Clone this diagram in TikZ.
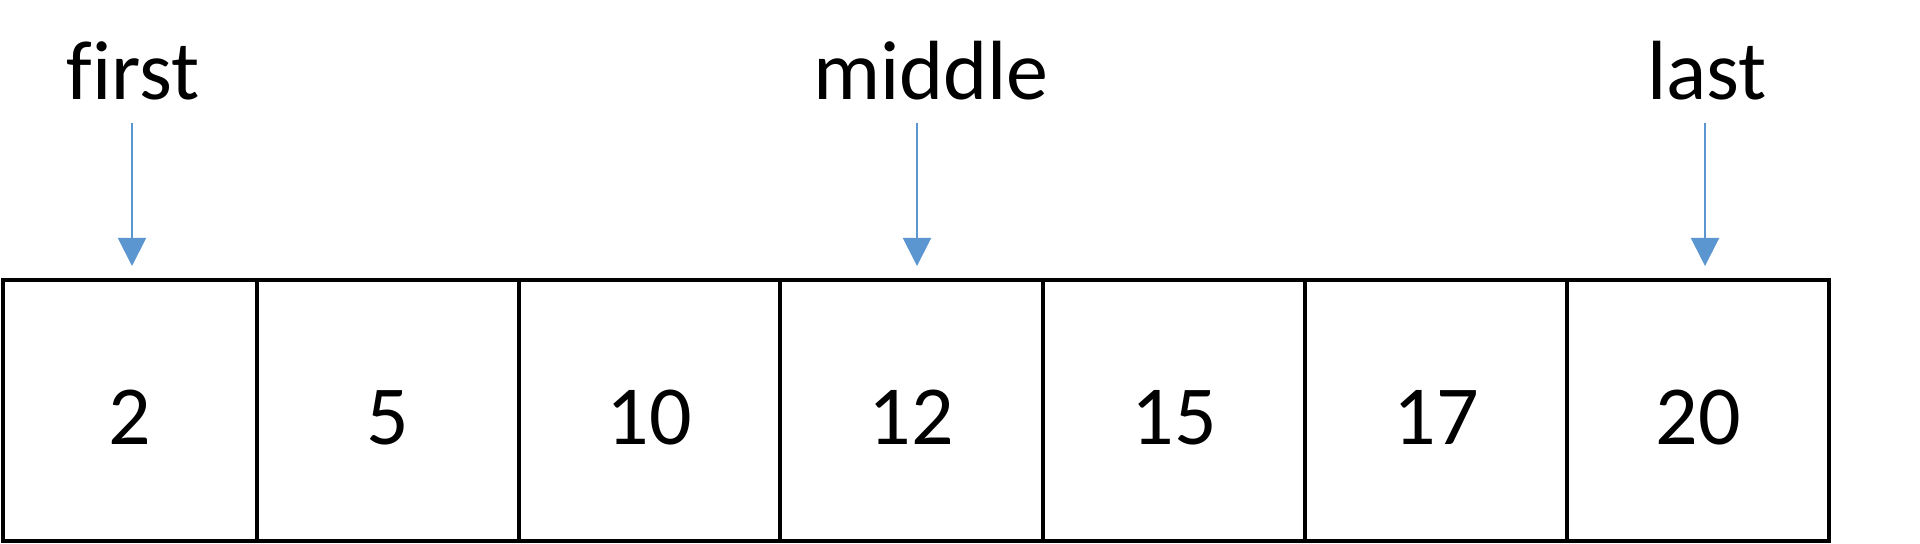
\documentclass[tikz,border=0pt]{standalone}
\usepackage{fontspec}
\setmainfont{Carlito}[Ligatures=NoCommon]
\usetikzlibrary{arrows.meta}
\definecolor{ptrblue}{RGB}{92,150,208}
\tikzset{
  cell/.style={draw=black, line width=1.7pt, minimum height=130.5pt, inner sep=0pt,
    font=\fontsize{42}{50}\selectfont, text height=34pt, text depth=0pt},
  ptrlabel/.style={font=\fontsize{42}{50}\selectfont, inner sep=0pt, anchor=base},
  ptrarrow/.style={draw=ptrblue, line width=1pt, -{Triangle[width=14pt,length=14pt,fill=ptrblue]}}
}
\begin{document}
\begin{tikzpicture}[x=0.5pt,y=-0.5pt]
\useasboundingbox (0,0) rectangle (1920,544);
% cells (boundaries 3,257,519,780,1043,1305,1567,1829; top 280, bottom 541)
\node[cell, minimum width=127pt]   (c1) at (130,410.5)  {2};
\node[cell, minimum width=131pt]   (c2) at (388,410.5)  {5};
\node[cell, minimum width=130.5pt] (c3) at (649.5,410.5) {10};
\node[cell, minimum width=131.5pt] (c4) at (911.5,410.5) {12};
\node[cell, minimum width=131pt]   (c5) at (1174,410.5) {15};
\node[cell, minimum width=131pt]   (c6) at (1436,410.5) {17};
\node[cell, minimum width=131pt]   (c7) at (1698,410.5) {20};
% labels
\node[ptrlabel] (first)  at (133,100)  {first};
\node[ptrlabel] (middle) at (931,100)  {middle};
\node[ptrlabel] (last)   at (1707,100) {last};
% arrow ends
\coordinate (fs) at (132,123);  \coordinate (fe) at (132,266);
\coordinate (ms) at (917,123);  \coordinate (me) at (917,266);
\coordinate (ls) at (1705,123); \coordinate (le) at (1705,266);
\draw[ptrarrow] (fs) -- (fe);
\draw[ptrarrow] (ms) -- (me);
\draw[ptrarrow] (ls) -- (le);
\end{tikzpicture}
\end{document}
